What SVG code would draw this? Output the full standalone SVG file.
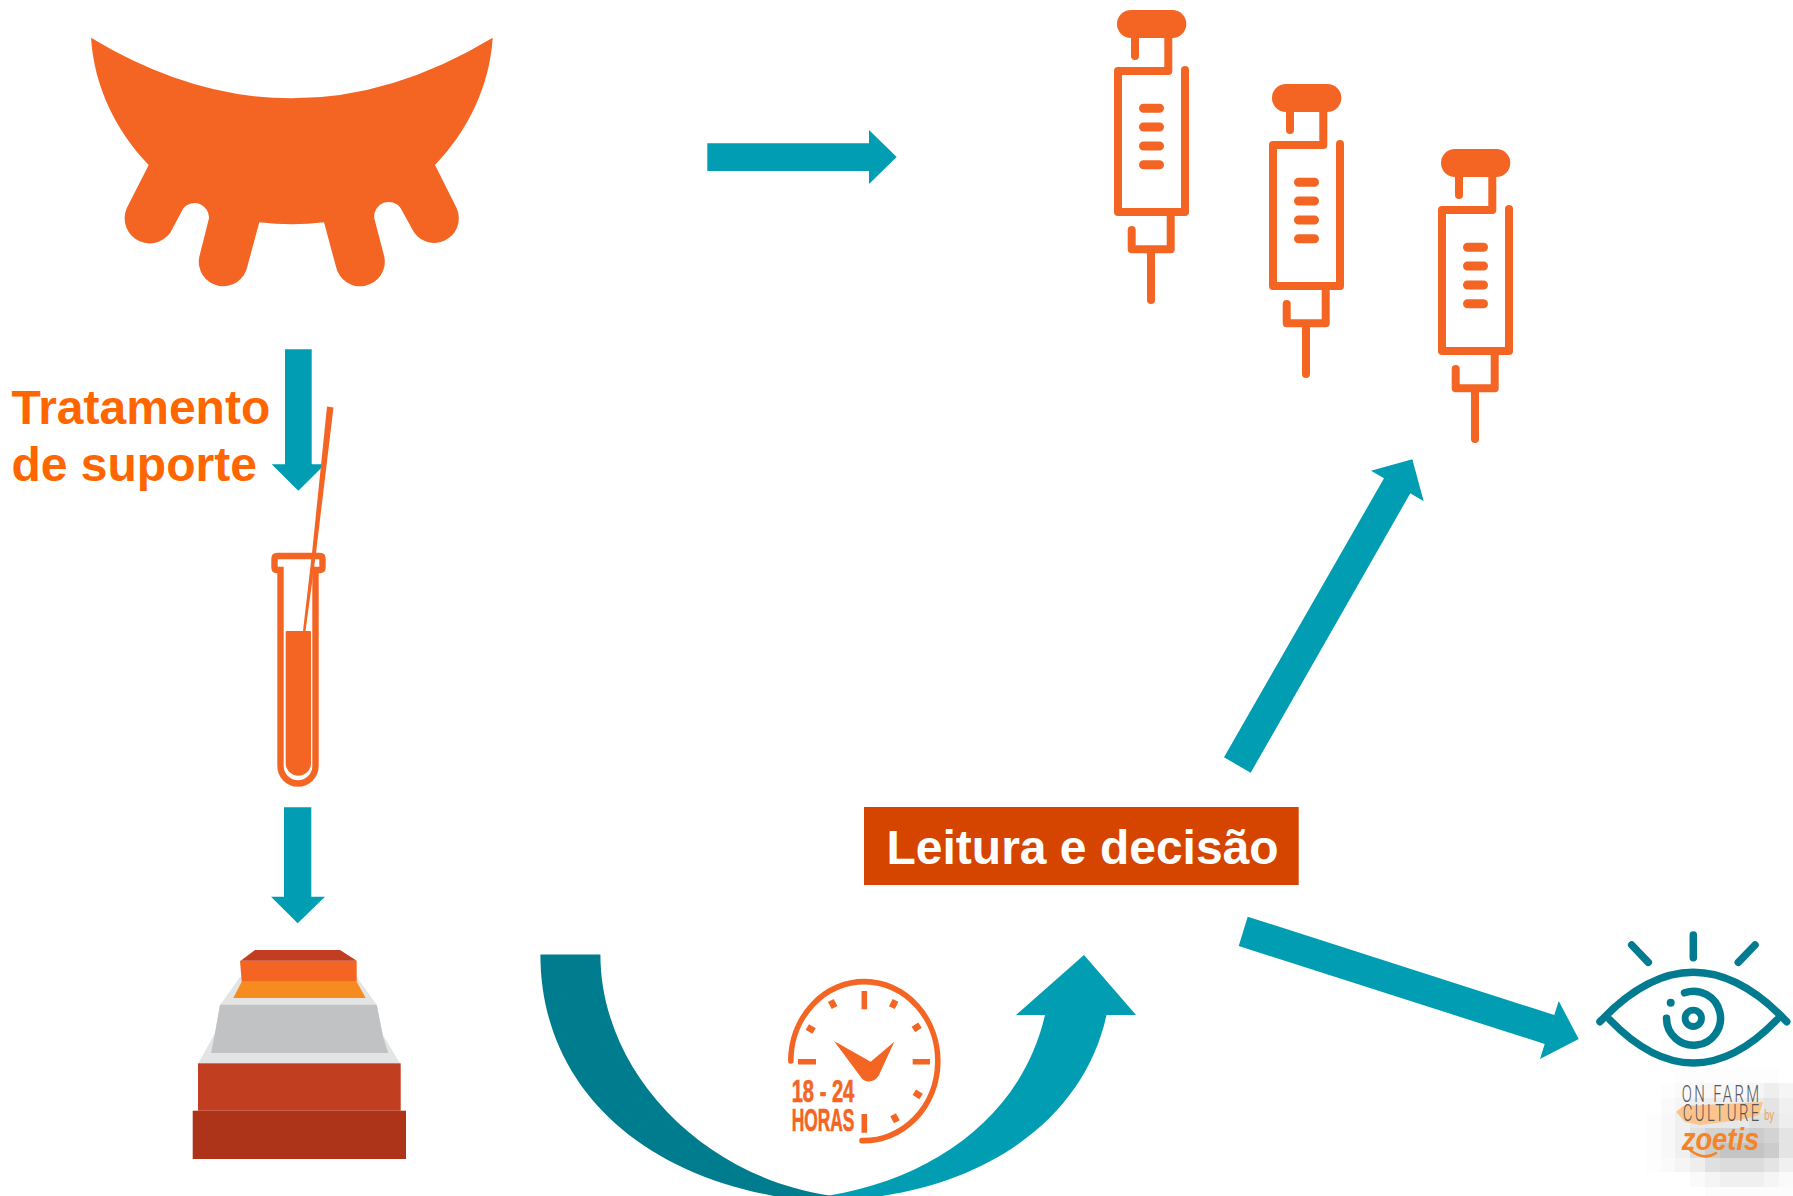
<svg xmlns="http://www.w3.org/2000/svg" width="1793" height="1196" viewBox="0 0 1793 1196">
<style>
.ar{fill:#019DB2}
.or{fill:#F46524}
.sl{fill:none;stroke:#F46524;stroke-width:8;stroke-linecap:round;stroke-linejoin:round}
.tk{fill:none;stroke:#F46524;stroke-width:9;stroke-linecap:round}
.mj{fill:none;stroke:#F46524;stroke-width:5.6}
.eye{fill:none;stroke:#007B90;stroke-linecap:round}
.lbl{font-family:"Liberation Sans",Arial,sans-serif;font-weight:700;font-size:48px}
.clk{font-family:"Liberation Sans",Arial,sans-serif;font-weight:700;font-size:31px;fill:#F46524;stroke:#F46524;stroke-width:.7}
.lg{font-family:Roboto,"Liberation Sans",sans-serif;font-weight:300;font-size:24px;fill:#555}
</style>
<defs>
<g id="syr">
<rect x="1117" y="10" width="69.3" height="28" rx="14" class="or"/>
<path class="sl" d="M1135 38V56M1168.3 38V71H1118V212H1185V70M1170.7 212V249.3H1131.7V230M1151 249.3V300"/>
<path class="tk" d="M1143.5 108.3H1159.5M1143.5 127H1159.5M1143.5 146H1159.5M1143.5 164.7H1159.5"/>
</g>
</defs>
<rect width="1793" height="1196" fill="#fff"/>
<g id="connectors">
<path class="ar" d="M707.3 143.3H869V130L896.7 157L869 184V171H707.3Z"/>
<path class="ar" d="M285 349.3H311.7V464.3H325L298.3 490.7L271.7 464.3H285Z"/>
<path class="ar" d="M284 807.3H311.3V896.7H325L297.7 923.3L271 896.7H284Z"/>
<path fill="#007C8F" d="M540.4 954.5H600.4C600.4 1070 700 1176 829 1195.5L850 1200H800C640 1180 540.4 1085 540.4 954.5Z"/>
<path class="ar" d="M1084 955L1136 1015H1106.5C1085 1115 990 1190 846 1200H800L829 1195.5C935 1178 1022 1115 1045 1015H1016Z"/>
<path class="ar" d="M1224 757.3L1250.7 772.7L1410.3 493.3L1423.7 501.3L1412.3 459.3L1371 470.7L1384 478.3Z"/>
<path class="ar" d="M1247.7 916.7L1554.3 1015L1558.7 1001L1578.7 1039L1540 1059L1544.7 1044L1238.7 946Z"/>
</g>
<g id="udder">
<path class="or" d="M91 37.7Q291.8 159 492.7 37.7C489.7 85 468.7 130 435 165L456.7 208.3A20 20 0 0 1 411.7 228.3L400.7 208.3A14.5 14.5 0 0 0 374.3 218.3L384.3 256.7A20 20 0 0 1 336 266.7L324 222.3Q291.8 226 259.3 222.3L247.3 266.7A20 20 0 0 1 199.3 256.7L209 218.3A14.5 14.5 0 0 0 183.3 208.3L172.7 228.3A20 20 0 0 1 126.7 208.3L148.7 165C115 130 94 85 91 37.7Z"/>
</g>
<g id="syringe-1"><use href="#syr"/></g>
<g id="syringe-2"><use href="#syr" x="155" y="74"/></g>
<g id="syringe-3"><use href="#syr" x="324" y="139"/></g>
<g id="label-tratamento">
<text class="lbl" x="11.5" y="424.3" fill="#FF6600">Tratamento</text>
<text class="lbl" x="11.5" y="481" fill="#FF6600">de suporte</text>
</g>
<g id="tube">
<path d="M280.5 766V570H276.5Q274.5 570 274.5 567V559Q274.5 556 277 556H320Q322.5 556 322.5 559V567Q322.5 570 320 570H315.5V766A17.5 17.5 0 0 1 280.5 766Z" fill="none" stroke="#F46524" stroke-width="6.4"/>
<path class="or" d="M287 631H310Q311 631 311 632V763A12.6 12.6 0 0 1 285.7 763V632Q285.7 631 287 631Z"/>
<path class="or" d="M327 406.5L333.5 407.5L316 553L305.5 631H303L312 553Z"/>
</g>
<g id="incubator">
<path fill="#E3E5E5" d="M240 977L220 1005L215 1033L198.3 1063.3H400L383 1035L376.7 1004.7L356.7 977Z"/>
<path fill="#C1C2C4" d="M220 1004.7H376.7L383 1036.7L388.3 1053H211L215 1033Z"/>
<path fill="#F68B1F" d="M241.7 981.7H356.7L365.7 998H233.3Z"/>
<path fill="#F46524" d="M240 960.7H356.7V981.7H241.7Z"/>
<path fill="#C23E20" d="M240.7 960.7L255 950H340L356.7 960.7Z"/>
<rect x="198" y="1063.3" width="202.7" height="47.4" fill="#C23E20"/>
<rect x="192.7" y="1110.7" width="213.3" height="48.3" fill="#AD3319"/>
</g>
<g id="label-decisao">
<rect x="864" y="807" width="434.7" height="78" fill="#D64500"/>
<text class="lbl" x="886.5" y="864" fill="#fff">Leitura e decisão</text>
</g>
<g id="clock">
<path d="M790.8 1061A73.5 79.5 0 1 1 862 1140.6" fill="none" stroke="#F46524" stroke-width="5.6" stroke-linecap="round"/>
<path class="mj" d="M864.3 991V1009.3M912.7 1061.7H930M798 1061.7H816M864.3 1114V1132.7"/>
<path fill="none" stroke="#F46524" stroke-width="6.5" d="M895.5 1000.4L891.9 1007.6M920 1025.1L913.4 1029.5M921.1 1096.4L914.3 1092.2M896.9 1121.8L893.1 1114.8M830.8 1000.5L834.6 1007.5M807.3 1026.9L814.1 1031.1"/>
<path class="or" d="M834 1041L870.7 1061.7L894.3 1041.7L879 1075Q875 1082 868 1081.5Q863 1081 860 1076Z"/>
<text class="clk" x="791.7" y="1101.7" textLength="62.6" lengthAdjust="spacingAndGlyphs">18 - 24</text>
<text class="clk" x="791.7" y="1130.7" textLength="62.6" lengthAdjust="spacingAndGlyphs">HORAS</text>
</g>
<g id="eye">
<path class="eye" stroke-width="7.5" d="M1693.3 935V957.7M1631.7 945L1648.3 962.3M1755 945L1738.3 962.3"/>
<path class="eye" stroke-width="7.5" d="M1600 1021.7Q1693.3 923 1786.7 1021.7M1610 1020Q1693.3 1106 1776.7 1020"/>
<circle cx="1693.3" cy="1018.3" r="8.2" fill="none" stroke="#007B90" stroke-width="6.8"/>
<path class="eye" stroke-width="7.5" d="M1684.5 992.8A27 27 0 1 1 1666.5 1018.3"/>
<circle cx="1670.7" cy="1002.7" r="4" fill="#007B90"/>
</g>
<g id="logo">
<g id="logo-blur">
<path fill="#fdfdfd" d="M1675 1068h104v15h-104zM1646 1113h15v60h-15zM1661 1083h15v15h-15z"/>
<path fill="#fafafa" d="M1675 1083h15v15h-15zM1661 1098h14v15h-14zM1661 1158h14v14h-14zM1690 1172h15v15h-15zM1779 1172h14v15h-14z"/>
<path fill="#f8f8f8" d="M1690 1083h59v15h-59zM1661 1113h14v45h-14z"/>
<path fill="#f5f5f5" d="M1675 1098h15v15h-15zM1749 1083h15v15h-15zM1779 1083h14v15h-14zM1675 1158h15v14h-15zM1705 1172h15v15h-15zM1764 1172h15v15h-15z"/>
<path fill="#f0f0f0" d="M1675 1113h15v45h-15zM1779 1098h14v15h-14zM1779 1158h14v14h-14zM1720 1172h44v15h-44z"/>
<path fill="#eeeeee" d="M1764 1083h15v15h-15zM1690 1098h59v15h-59zM1779 1113h14v15h-14zM1690 1158h15v14h-15z"/>
<path fill="#e8e8e8" d="M1690 1113h59v15h-59zM1749 1098h15v15h-15z"/>
<path fill="#e4e4e4" d="M1764 1098h15v15h-15zM1779 1128h14v30h-14zM1764 1158h15v14h-15z"/>
<path fill="#e0e0e0" d="M1749 1113h30v15h-30zM1690 1128h15v15h-15zM1705 1158h15v14h-15z"/>
<path fill="#dcdcdc" d="M1690 1143h15v15h-15zM1720 1158h44v14h-44z"/>
<path fill="#d3d3d3" d="M1705 1128h15v15h-15zM1720 1128h29v15h-29zM1764 1128h15v15h-15z"/>
<path fill="#cccccc" d="M1749 1128h15v15h-15zM1705 1143h15v15h-15zM1764 1143h15v15h-15z"/>
<path fill="#c4c4c4" d="M1720 1143h44v15h-44z"/>
<path fill="#fcfcfc" d="M1705 1187h88v9h-88z"/>
</g>
<path fill="#FBC48C" d="M1676 1112L1683 1106L1763 1102L1759 1115L1740 1120L1700 1125L1685 1122Z"/>
<text class="lg" transform="translate(1681.7 1101.7) scale(.62 1)" textLength="125" lengthAdjust="spacing">ON FARM</text>
<text class="lg" transform="translate(1682.7 1121) scale(.62 1)" textLength="123.5" lengthAdjust="spacing">CULTURE</text>
<text x="1764.3" y="1120" font-family="Liberation Sans, sans-serif" font-size="15" fill="#F0A050" textLength="9.7" lengthAdjust="spacingAndGlyphs">by</text>
<text x="1681.7" y="1150" font-family="Liberation Sans, sans-serif" font-size="31" font-style="italic" font-weight="700" fill="#F58426" textLength="77.6" lengthAdjust="spacingAndGlyphs">zoetis</text>
<path d="M1690 1150Q1704 1161 1716 1153" fill="none" stroke="#F58426" stroke-width="2.5" stroke-linecap="round"/>
</g>
</svg>
